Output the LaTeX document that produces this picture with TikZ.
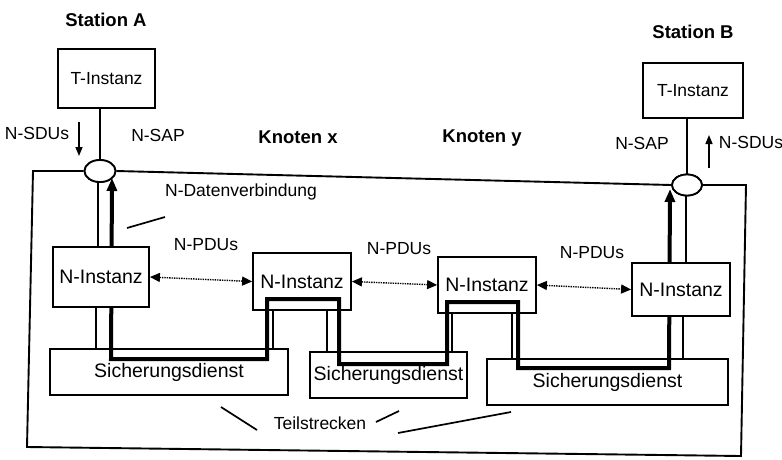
\documentclass[tikz,border=0pt]{standalone}
\usepackage{fontspec}
\setmainfont{Liberation Sans}
\usetikzlibrary{arrows.meta,shapes.geometric}
\begin{document}
\begin{tikzpicture}[x=1pt,y=-1pt,
  base/.style={font=\fontsize{17.5}{20}\selectfont, inner sep=0pt},
  title/.style={font=\fontsize{18.5}{21}\selectfont\bfseries, inner sep=0pt},
  box/.style={draw, line width=1.8pt, fill=white, inner sep=0pt, font=\fontsize{19.5}{22}\selectfont},
  sap/.style={ellipse, draw, line width=1.8pt, fill=white, inner sep=0pt},
  frame/.style={line width=1.9pt},
  thinl/.style={line width=1.5pt},
  thickl/.style={line width=4pt, line join=miter},
  pdu/.style={line width=1.4pt, densely dotted, {Triangle[length=10pt,width=9pt]}-{Triangle[length=10pt,width=9pt]}},
  sdu/.style={line width=1.5pt, -{Triangle[length=9pt,width=7pt]}},
  pointer/.style={line width=1.7pt}]
\useasboundingbox (0,0) rectangle (782,459);

% titles and labels
\node[title] (stA) at (106,20) {Station A};
\node[title] (stB) at (693,32) {Station B};
\node[title] (kx) at (298,137) {Knoten x};
\node[title] (ky) at (482,138) {Knoten y};
\node[base] (sapA) at (158,135) {N-SAP};
\node[base] (sapB) at (642,143) {N-SAP};
\node[base] (sduA) at (37,133) {N-SDUs};
\node[base] (sduB) at (751,142) {N-SDUs};
\node[base] (dv) at (241,192) {N-Datenverbindung};
\node[base] (p1) at (206,245) {N-PDUs};
\node[base] (p2) at (399,249) {N-PDUs};
\node[base] (p3) at (592,253) {N-PDUs};
\node[base] (ts) at (320,423) {Teilstrecken};

% T-Instanz boxes
\node[box, minimum width=97pt, minimum height=59pt, font=\fontsize{17.5}{20}\selectfont] (tA) at (106.5,78.5) {T-Instanz};
\node[box, minimum width=100pt, minimum height=55pt, font=\fontsize{17.5}{20}\selectfont] (tB) at (693,90.5) {T-Instanz};

% SAP ellipse centres
\coordinate (eAc) at (100,171);
\coordinate (eBc) at (687,185);

% Sicherungsdienst boxes
\node[box, minimum width=238pt, minimum height=46pt] (s1) at (169,372) {\raisebox{-4pt}{Sicherungsdienst}};
\node[box, minimum width=157pt, minimum height=46pt] (s2) at (388.5,375) {\raisebox{-4pt}{Sicherungsdienst}};
\node[box, minimum width=241pt, minimum height=46pt] (s3) at (607.5,382) {\raisebox{-3pt}{Sicherungsdienst}};

% N-Instanz boxes of the nodes
\node[box, minimum width=98pt, minimum height=57pt] (nX) at (302,281.5) {N-Instanz};
\node[box, minimum width=98pt, minimum height=56pt] (nY) at (487,285) {N-Instanz};

% frame
\node[sap, minimum width=31pt, minimum height=22pt] (eA) at (eAc) {};
\node[sap, minimum width=30pt, minimum height=21pt] (eB) at (eBc) {};
\draw[frame] (eA.west) -- (33,171) -- (27,447) -- (741,456) -- (746,185) -- (eB.east);
\draw[frame] (eA.east) -- (eB.west);

% vertical thin lines
\draw[thinl] (tA.south -| eA) -- (eA.north);
\draw[thinl] (tB.south -| eB) -- (eB.north);
\draw[thinl] (98,171) -- (98,247);
\draw[thinl] (96,307) -- (s1.north -| 96,0);
\draw[thinl] (nX.south -| 273,0) -- (s1.north -| 273,0);
\draw[thinl] (nX.south -| 327,0) -- (s2.north -| 327,0);
\draw[thinl] (nY.south -| 452,0) -- (s2.north -| 452,0);
\draw[thinl] (nY.south -| 512,0) -- (s3.north -| 512,0);
\draw[thinl] (686,185) -- (686,263);
\draw[thinl] (683,316) -- (s3.north -| 683,0);

% thick N-Datenverbindung
\draw[thickl, {Triangle[length=13pt,width=10pt]}-{Triangle[length=13pt,width=10pt]}]
  (112,178) -- (111,359) -- (267,359) -- (267,299) -- (339,299) -- (339,364)
  -- (447,364) -- (447,302) -- (518,302) -- (518,368) -- (669,368) -- (670,189);

% ellipses on top
\node[sap, minimum width=31pt, minimum height=22pt] at (eAc) {};
\node[sap, minimum width=30pt, minimum height=21pt] at (eBc) {};

% end-station N-Instanz boxes (thick line passes behind)
\node[box, minimum width=96pt, minimum height=60pt] (nA) at (101,277) {N-Instanz};
\node[box, minimum width=98pt, minimum height=53pt] (nB) at (681,289.5) {N-Instanz};

% PDU arrows
\draw[pdu] (nA.east) -- (nX.west);
\draw[pdu] (nX.east) -- (nY.west);
\draw[pdu] (nY.east) -- (nB.west);

% SDU arrows
\coordinate (sduAs) at (79,122);
\coordinate (sduAe) at (79,156);
\draw[sdu] (sduAs) -- (sduAe);
\coordinate (sduBs) at (709,168);
\coordinate (sduBe) at (709,135);
\draw[sdu] (sduBs) -- (sduBe);

% pointer lines
\coordinate (dv1) at (127,228); \coordinate (dv2) at (165,217);
\draw[pointer] (dv1) -- (dv2);
\coordinate (t1a) at (221,407); \coordinate (t1b) at (257,430);
\coordinate (t2a) at (376,422); \coordinate (t2b) at (399,411);
\coordinate (t3a) at (398,433); \coordinate (t3b) at (511,412);
\draw[pointer] (t1a) -- (t1b);
\draw[pointer] (t2a) -- (t2b);
\draw[pointer] (t3a) -- (t3b);
\end{tikzpicture}
\end{document}
